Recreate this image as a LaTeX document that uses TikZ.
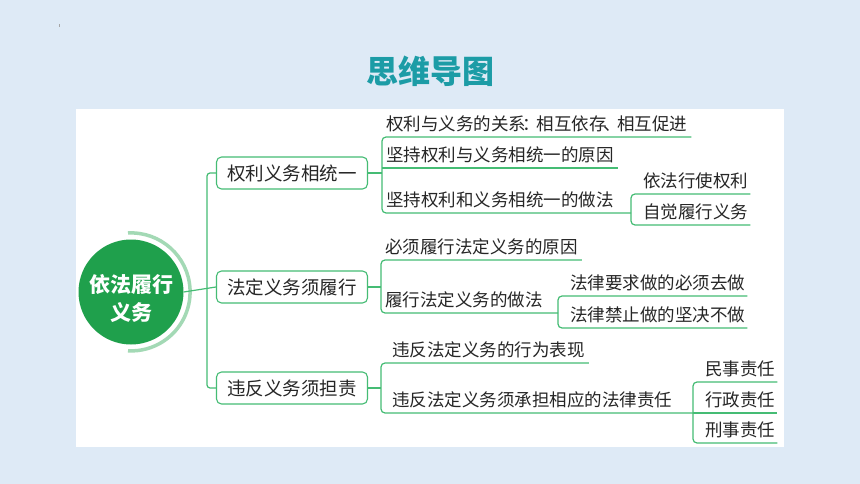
\documentclass[tikz,border=0pt]{standalone}
\usepackage{fontspec}
\newfontfamily\cjk{Noto Sans CJK SC}
\usetikzlibrary{positioning}
\definecolor{bgblue}{HTML}{DEEAF6}
\definecolor{linegreen}{HTML}{45BC74}
\definecolor{rootgreen}{HTML}{1FA04C}
\definecolor{arcgreen}{HTML}{A3D9B5}
\definecolor{titleteal}{HTML}{1C9CA6}
\definecolor{textgray}{HTML}{262626}

\begin{document}
\begin{tikzpicture}
[x=1pt, y=-1pt,
root/.style={circle, fill=rootgreen, minimum size=105pt, inner sep=0pt},
roottext/.style={font=\cjk\bfseries\fontsize{21}{28}\selectfont, text=white, align=center},
branch/.style={draw=linegreen, line width=1.1pt, rounded corners=5pt, fill=white, minimum width=151pt, minimum height=32pt, inner sep=0pt, font=\cjk\fontsize{18.5}{18.5}\selectfont, text=textgray},
leaf/.style={anchor=south west, inner ysep=0pt, inner xsep=4pt, text height=14pt, text depth=6.5pt, font=\cjk\fontsize{17.5}{17.5}\selectfont, text=textgray},
pad/.style={execute at begin node={\hspace*{#1}}},
subleaf/.style={leaf, inner xsep=2pt, pad=10pt},
link/.style={draw=linegreen, line width=1.2pt},
bracket/.style={link, rounded corners=4pt},
titletext/.style={font=\cjk\bfseries\fontsize{32}{32}\selectfont, text=titleteal}]
    \useasboundingbox (0,0) rectangle (860,484);
    \fill[bgblue] (0,0) rectangle (860,484);
    \fill[gray!70] (58.5,24.5) rectangle (59.5,27.5);
    \fill[white] (76,109) rectangle (784,447);
    \node (title) [titletext] at (430,71) {思维导图};

    \node (root) [root] at (131,292) {};
    \node (rootlabel) [roottext] at ([yshift=-7pt]root.center) {依法履行\\义务};
    \draw[arcgreen, line width=3.5pt] ([shift={(-3,-59)}]root.center) arc[start angle=93, end angle=-93, radius=59pt];

    \node (br1) [branch] at (292,173) {权利义务相统一};
    \node (br2) [branch] at (292,287) {法定义务须履行};
    \node (br3) [branch] at (292,388) {违反义务须担责};
    \coordinate (fork) at (207,288);

    \node (a1) [leaf] at (382,137) {权利与义务的关系\makebox[0.6em][c]{：}相互依存\makebox[0.6em][c]{、}相互促进};
    \node (a2) [leaf] at (382,168) {坚持权利与义务相统一的原因};
    \node (a3) [leaf] at (382,213) {坚持权利和义务相统一的做法};
    \node (a31) [subleaf] at (631,194) {依法行使权利};
    \node (a32) [subleaf] at (631,225) {自觉履行义务};

    \node (b1) [leaf] at (381,260) {必须履行法定义务的原因};
    \node (b2) [leaf] at (381,313) {履行法定义务的做法};
    \node (b21) [subleaf] at (558,296) {法律要求做的必须去做};
    \node (b22) [subleaf] at (558,328) {法律禁止做的坚决不做};

    \node (c1) [leaf, pad=7pt] at (381,363) {违反法定义务的行为表现};
    \node (c2) [leaf, pad=7pt] at (381,413) {违反法定义务须承担相应的法律责任};
    \node (c21) [subleaf] at (693,382) {民事责任};
    \node (c22) [subleaf] at (693,413) {行政责任};
    \node (c23) [subleaf] at (693,443) {刑事责任};

    \draw[link] (root.east) -- (br2.west);
    \draw[link, rounded corners=3pt] (br1.west) -- (br1.west -| fork) -- (br3.west -| fork) -- (br3.west);

    \draw[link] (br1.east) -- (br1.east -| a1.south west);
    \draw[bracket] (a1.south east) -- (a1.south west) -- (a3.south west) -- (a3.south west -| a31.south west);
    \draw[link] (a2.south west) -- (a2.south east);
    \draw[bracket] (a31.south east) -- (a31.south west) -- (a32.south west) -- (a32.south east);

    \draw[link] (br2.east) -- (br2.east -| b1.south west);
    \draw[bracket] (b1.south east) -- (b1.south west) -- (b2.south west) -- (b2.south west -| b21.south west);
    \draw[bracket] (b21.south east) -- (b21.south west) -- (b22.south west) -- (b22.south east);

    \draw[link] (br3.east) -- (br3.east -| c1.south west);
    \draw[bracket] (c1.south east) -- (c1.south west) -- (c2.south west) -- (c2.south west -| c21.south west);
    \draw[bracket] (c21.south east) -- (c21.south west) -- (c23.south west) -- (c23.south east);
    \draw[link] (c22.south west) -- (c22.south east);
\end{tikzpicture}
\end{document}
